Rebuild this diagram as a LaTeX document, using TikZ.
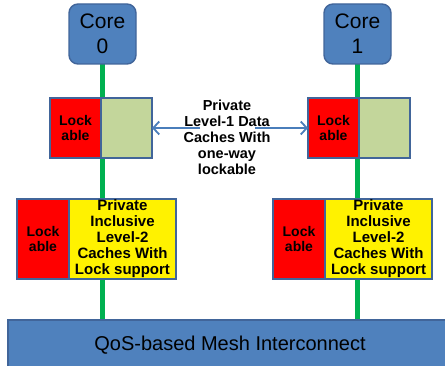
\documentclass[tikz,border=0pt]{standalone}
\usepackage{fontspec}
\setmainfont{Liberation Sans}
\usepackage{tikz}
\usetikzlibrary{arrows.meta}
\pgfdeclarelayer{background}
\pgfsetlayers{background,main}
\definecolor{coreblue}{HTML}{4F81BD}
\definecolor{edgeblue}{HTML}{41659A}
\definecolor{busgreen}{HTML}{00B050}
\definecolor{datagreen}{HTML}{C3D69B}
\definecolor{arrowblue}{HTML}{4A7EBB}

\begin{document}
\begin{tikzpicture}[x=1pt,y=-1pt,
  box/.style={draw=edgeblue,line width=1.4pt,inner sep=0pt,outer sep=0pt,align=center},
  core/.style={box,fill=coreblue,rounded corners=9pt,minimum width=67pt,minimum height=60pt,
    font=\fontsize{21}{25}\selectfont},
  lockbox/.style={box,fill=red,font=\bfseries\fontsize{14}{14.5}\selectfont},
  l2box/.style={box,fill=yellow,minimum width=107pt,minimum height=80pt,
    font=\bfseries\fontsize{15}{16}\selectfont},
  bus/.style={busgreen,line width=5.5pt},
  link/.style={arrowblue,line width=1.8pt,-{Straight Barb[length=6pt,width=13pt,line width=1.8pt]}}]
  \useasboundingbox (0,0) rectangle (445,366);
  \node[core] (core0) at (102.5,34) {Core\\0};
  \node[core] (core1) at (357.5,34) {Core\\1};
  \node[lockbox,minimum width=51pt,minimum height=60pt] (l1lock0) at (75.5,128) {Lock\\able};
  \node[box,fill=datagreen,minimum width=51pt,minimum height=60pt] (l1data0) at (126.5,128) {};
  \node[lockbox,minimum width=51pt,minimum height=60pt] (l1lock1) at (333.5,128) {Lock\\able};
  \node[box,fill=datagreen,minimum width=51pt,minimum height=60pt] (l1data1) at (384.5,128) {};
  \node[lockbox,minimum width=52pt,minimum height=80pt] (l2lock0) at (43,239) {Lock\\able};
  \node[l2box] (l2data0) at (122.5,239) {Private\\Inclusive\\Level-2\\Caches With\\Lock support};
  \node[lockbox,minimum width=52pt,minimum height=80pt] (l2lock1) at (299,239) {Lock\\able};
  \node[l2box] (l2data1) at (378.5,239) {Private\\Inclusive\\Level-2\\Caches With\\Lock support};
  \node[box,fill=coreblue,minimum width=444pt,minimum height=50pt,
    font=\fontsize{20}{24}\selectfont] (mesh) at (230,345) {QoS-based Mesh Interconnect};
  \node[align=center,font=\bfseries\fontsize{14.5}{16}\selectfont] (l1text) at (227,137)
    {Private\\Level-1 Data\\Caches With\\one-way\\lockable};
  \coordinate (fromleft) at (200,128);
  \coordinate (fromright) at (255,128);
  \draw[link] (fromleft) -- (l1data0.east);
  \draw[link] (fromright) -- (l1lock1.west);
  \begin{pgfonlayer}{background}
    \draw[bus] (core0.south) -- (core0.south |- mesh.north);
    \draw[bus] (core1.south) -- (core1.south |- mesh.north);
  \end{pgfonlayer}
\end{tikzpicture}
\end{document}
